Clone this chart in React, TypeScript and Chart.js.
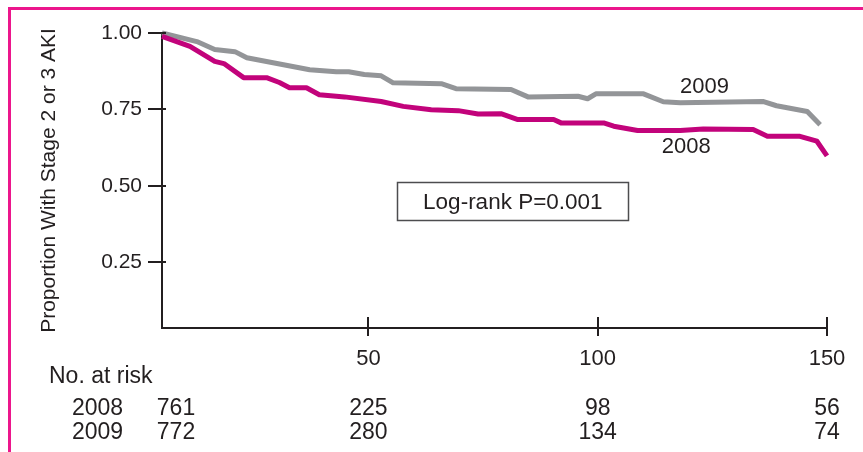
import React, { useEffect, useRef } from "react";
import { Chart, registerables } from "chart.js";

Chart.register(...registerables);

// ---- data ----
const times2008 = [5, 11.1, 16.5, 18.5, 22.8, 27.8, 30.6, 32.8, 36.5, 39.3, 43, 44.8, 52.8, 57.6, 63.7, 69.6, 73.9, 78.9, 82.6, 90.4, 92, 101.3, 103.5, 108.7, 118, 123, 133.9, 137, 144.1, 147.8, 150];
const surv2008 = [0.989, 0.956, 0.907, 0.9, 0.854, 0.854, 0.838, 0.821, 0.821, 0.798, 0.793, 0.791, 0.776, 0.76, 0.749, 0.746, 0.735, 0.736, 0.717, 0.717, 0.706, 0.706, 0.695, 0.681, 0.681, 0.686, 0.684, 0.662, 0.662, 0.646, 0.598];

const times2009 = [5, 12.6, 16.5, 20.9, 23.5, 31.5, 37.2, 43, 45.7, 49.1, 52.8, 55.4, 65.9, 69.1, 81.1, 84.8, 95.7, 97.8, 99.6, 110, 114.3, 118, 136, 139, 145.7, 148.5];
const surv2009 = [1.0, 0.972, 0.946, 0.939, 0.919, 0.896, 0.88, 0.873, 0.873, 0.864, 0.86, 0.837, 0.834, 0.818, 0.815, 0.791, 0.793, 0.785, 0.801, 0.801, 0.775, 0.772, 0.776, 0.762, 0.743, 0.7];

const seriesNames = ["2008", "2009"];
const xTickValues = [50, 100, 150];
const yTickValues = [0.25, 0.5, 0.75, 1.0];

const riskTimes = [0, 50, 100, 150];
const risk2008 = [761, 225, 98, 56];
const risk2009 = [772, 280, 134, 74];

const yTitle = "Proportion With Stage 2 or 3 AKI";
const pValueText = "Log-rank P=0.001";
const riskTitle = "No. at risk";

// ---- styles ----
const INK = "#231f20";
const PINK_LINE = "#c2037b";
const GRAY_LINE = "#939598";
const FRAME = "#ec168c";
const FONT = "'Liberation Sans', Arial, Helvetica, sans-serif";
const W = 863;
const H = 452;

export default function App() {
  const ref = useRef<HTMLCanvasElement>(null);

  useEffect(() => {
    const canvas = ref.current;
    if (!canvas) return;

    const extras = {
      id: "extras",
      afterDraw(chart: any) {
        const { ctx, chartArea, scales } = chart;
        const xs = scales.x;
        const ys = scales.y;
        ctx.save();
        // inner halves of the tick marks (ticks cross the axes)
        ctx.strokeStyle = INK;
        ctx.lineWidth = 2;
        yTickValues.forEach((v) => {
          const py = Math.round(ys.getPixelForValue(v));
          ctx.beginPath();
          ctx.moveTo(chartArea.left, py);
          ctx.lineTo(chartArea.left + 4, py);
          ctx.stroke();
        });
        xTickValues.forEach((v) => {
          const px = Math.round(xs.getPixelForValue(v));
          ctx.beginPath();
          ctx.moveTo(px, chartArea.bottom);
          ctx.lineTo(px, chartArea.bottom - 11);
          ctx.stroke();
        });

        ctx.fillStyle = INK;
        ctx.textBaseline = "middle";
        ctx.textAlign = "center";
        // series labels
        ctx.font = `22px ${FONT}`;
        ctx.fillText(seriesNames[1], xs.getPixelForValue(123.3), ys.getPixelForValue(0.824));
        ctx.fillText(seriesNames[0], xs.getPixelForValue(119.3), ys.getPixelForValue(0.628));

        // log-rank box
        const cx = xs.getPixelForValue(81.5);
        const cy = ys.getPixelForValue(0.449);
        const bw = 231;
        const bh = 38;
        ctx.strokeStyle = "#4d4d4f";
        ctx.lineWidth = 1.5;
        ctx.strokeRect(Math.round(cx - bw / 2) + 0.5, Math.round(cy - bh / 2) + 0.5, bw, bh);
        ctx.font = `22.5px ${FONT}`;
        ctx.fillText(pValueText, cx, cy + 1);

        // risk table
        ctx.font = `23px ${FONT}`;
        const base = chartArea.bottom;
        ctx.textAlign = "left";
        ctx.fillText(riskTitle, 49, base + 48.5);
        const rows = [risk2008, risk2009];
        rows.forEach((row, r) => {
          const y = base + 80.5 + r * 24;
          ctx.textAlign = "left";
          ctx.fillText(seriesNames[r], 72, y);
          ctx.textAlign = "center";
          row.forEach((n, i) => {
            let px = xs.getPixelForValue(riskTimes[i]);
            if (px < chartArea.left) px = chartArea.left + 14;
            ctx.fillText(String(n), px, y);
          });
        });
        ctx.restore();
      },
    };

    const chart = new Chart(canvas, {
      type: "line",
      data: {
        datasets: [
          {
            label: seriesNames[0],
            data: times2008.map((t, i) => ({ x: t, y: surv2008[i] })),
            borderColor: PINK_LINE,
            borderWidth: 5,
            pointRadius: 0,
            tension: 0,
            clip: false as any,
            borderJoinStyle: "round",
          },
          {
            label: seriesNames[1],
            data: times2009.map((t, i) => ({ x: t, y: surv2009[i] })),
            borderColor: GRAY_LINE,
            borderWidth: 5,
            pointRadius: 0,
            tension: 0,
            clip: false as any,
            borderJoinStyle: "round",
          },
        ],
      },
      options: {
        responsive: false,
        animation: false,
        devicePixelRatio: 1,
        layout: { padding: { left: 0, right: 36, top: 33, bottom: 0 } },
        plugins: { legend: { display: false }, tooltip: { enabled: false } },
        scales: {
          x: {
            type: "linear",
            min: 5,
            max: 150,
            afterBuildTicks: (s: any) => {
              s.ticks = xTickValues.map((v) => ({ value: v }));
            },
            afterFit: (s: any) => {
              s.height = H - 328;
            },
            grid: { display: true, drawOnChartArea: false, drawTicks: true, tickLength: 8, color: INK, lineWidth: 2 },
            border: { display: true, color: INK, width: 2 },
            ticks: { color: INK, font: { family: FONT, size: 22 }, padding: 10, maxRotation: 0 },
          },
          y: {
            type: "linear",
            min: 0.035,
            max: 1,
            afterBuildTicks: (s: any) => {
              s.ticks = yTickValues.map((v) => ({ value: v }));
            },
            afterFit: (s: any) => {
              s.width = 162;
            },
            grid: { display: true, drawOnChartArea: false, drawTicks: true, tickLength: 14, color: INK, lineWidth: 2 },
            border: { display: true, color: INK, width: 2 },
            ticks: {
              color: INK,
              font: { family: FONT, size: 21 },
              padding: 6,
              callback: (v: any) => Number(v).toFixed(2),
            },
            title: {
              display: true,
              text: yTitle,
              color: INK,
              font: { family: FONT, size: 21 },
              padding: { top: 37, bottom: 0 },
            },
          },
        },
      } as any,
      plugins: [extras],
    });

    return () => chart.destroy();
  }, []);

  return (
    <div style={{ position: "absolute", left: 0, top: 0, width: W, height: H, background: "#fff", overflow: "hidden" }}>
      <canvas ref={ref} width={W} height={H} style={{ display: "block", width: W, height: H }} />
      <div
        style={{
          position: "absolute",
          left: 8,
          top: 7,
          width: W,
          height: H,
          borderLeft: `3px solid ${FRAME}`,
          borderTop: `3px solid ${FRAME}`,
          pointerEvents: "none",
        }}
      />
    </div>
  );
}
